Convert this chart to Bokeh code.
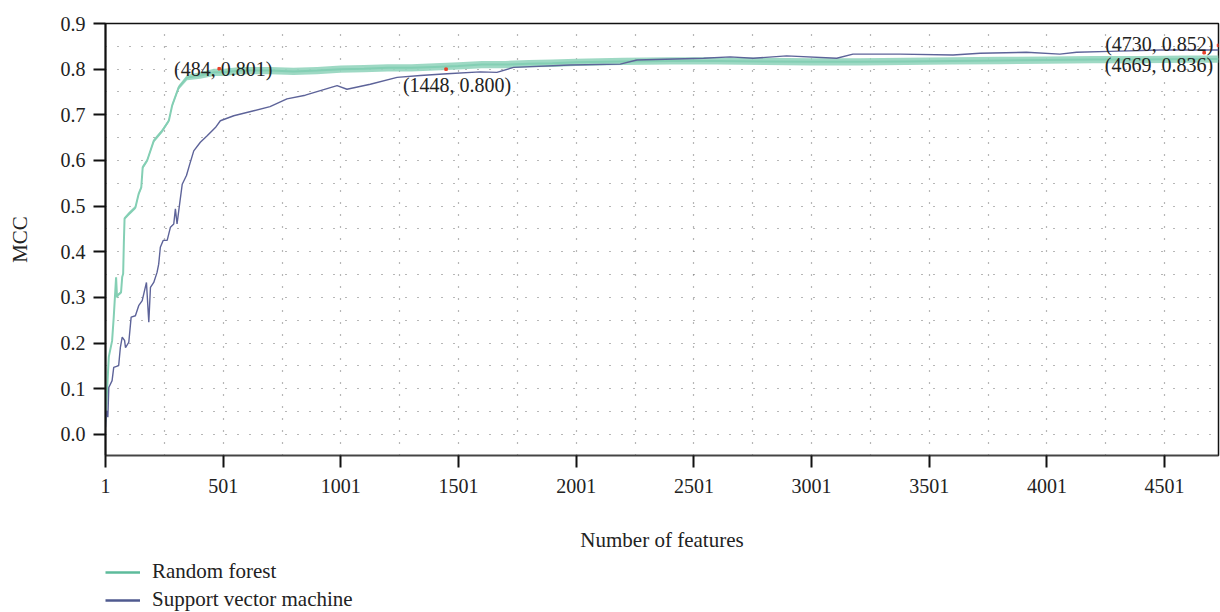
from bokeh.plotting import figure
from bokeh.layouts import column
from bokeh.models import (Range1d, FixedTicker, PrintfTickFormatter, Legend, LegendItem,
                          ColumnDataSource)
from bokeh.core.properties import value
from bokeh.embed import file_html
from bokeh.resources import INLINE

# ---------------- data ----------------
rf_x = [1, 8, 15, 29, 36, 46, 50, 53, 67, 72,
        76, 79, 82, 100, 128, 142, 153, 159, 178, 206,
        242, 270, 284, 312, 348, 404, 461, 503, 574, 700,
        800, 900, 1000, 1100, 1200, 1300, 1400, 1500, 1600, 1700,
        1800, 1900, 2000, 2200, 2400, 2600, 2800, 3000, 3200, 3400,
        3600, 3800, 4000, 4200, 4400, 4600, 4730]
rf_mcc = [0.027, 0.100, 0.170, 0.205, 0.257, 0.344, 0.300, 0.305, 0.311, 0.345,
          0.352, 0.420, 0.473, 0.483, 0.497, 0.527, 0.541, 0.585, 0.600, 0.643,
          0.665, 0.687, 0.720, 0.760, 0.782, 0.786, 0.793, 0.793, 0.797, 0.797,
          0.795, 0.797, 0.800, 0.801, 0.803, 0.803, 0.805, 0.807, 0.810, 0.810,
          0.812, 0.813, 0.815, 0.817, 0.818, 0.818, 0.817, 0.816, 0.816, 0.817,
          0.818, 0.819, 0.820, 0.821, 0.821, 0.822, 0.822]
# half-width of the noisy random-forest band
rf_spread = [0.003, 0.003, 0.003, 0.003, 0.003, 0.003, 0.003, 0.003, 0.003, 0.003,
             0.003, 0.003, 0.003, 0.004, 0.004, 0.004, 0.004, 0.004, 0.004, 0.004,
             0.004, 0.004, 0.004, 0.005, 0.006, 0.007, 0.008, 0.008, 0.008, 0.008,
             0.008, 0.008, 0.008, 0.008, 0.008, 0.008, 0.008, 0.008, 0.008, 0.008,
             0.008, 0.008, 0.008, 0.008, 0.008, 0.008, 0.008, 0.008, 0.008, 0.008,
             0.008, 0.008, 0.008, 0.008, 0.008, 0.008, 0.008]

svm_x = [1, 5, 11, 15, 29, 36, 57, 64, 72, 82,
         86, 100, 110, 128, 142, 157, 175, 185, 192, 206,
         220, 227, 234, 246, 263, 277, 291, 298, 305, 316,
         327, 345, 359, 376, 404, 433, 468, 489, 546, 631,
         700, 772, 850, 914, 985, 1027, 1126, 1240, 1339, 1452, 1593, 1664,
         1735, 1975, 2188, 2259, 2542, 2655, 2753, 2895, 3108, 3177,
         3377, 3602, 3717, 3914, 4056, 4127, 4268, 4481, 4730]
svm_mcc = [0.016, 0.052, 0.038, 0.103, 0.118, 0.147, 0.151, 0.190, 0.213, 0.206,
           0.190, 0.202, 0.257, 0.260, 0.282, 0.293, 0.333, 0.246, 0.322, 0.333,
           0.355, 0.373, 0.410, 0.425, 0.425, 0.454, 0.461, 0.494, 0.461, 0.505,
           0.548, 0.567, 0.592, 0.621, 0.640, 0.654, 0.672, 0.687, 0.698, 0.709,
           0.718, 0.735, 0.743, 0.753, 0.764, 0.756, 0.767, 0.782, 0.786, 0.790, 0.794, 0.793,
           0.804, 0.809, 0.811, 0.820, 0.824, 0.827, 0.824, 0.829, 0.824, 0.833,
           0.833, 0.831, 0.835, 0.837, 0.833, 0.837, 0.839, 0.842, 0.842]

ann_x = [484, 1448, 4730, 4669]
ann_y = [0.801, 0.800, 0.852, 0.836]
ann_text = ["(484, 0.801)", "(1448, 0.800)", "(4730, 0.852)", "(4669, 0.836)"]

series_names = ["Random forest", "Support vector machine"]
x_ticks = [1, 501, 1001, 1501, 2001, 2501, 3001, 3501, 4001, 4501]
x_grid = [251, 501, 751, 1001, 1251, 1501, 1751, 2001, 2251, 2501, 2751, 3001,
          3251, 3501, 3751, 4001, 4251, 4501]
y_ticks = [0.0, 0.1, 0.2, 0.3, 0.4, 0.5, 0.6, 0.7, 0.8, 0.9]
y_grid = [0.0, 0.05, 0.1, 0.15, 0.2, 0.25, 0.3, 0.35, 0.4, 0.45, 0.5, 0.55,
          0.6, 0.65, 0.7, 0.75, 0.8, 0.85]

# ---------------- styling ----------------
FONT = "Liberation Serif"
RF_COLOR = "#5dbb9b"
RF_BAND = "#93d5be"
RF_MID = "#84cfb4"
SVM_COLOR = "#5d6399"
SVM_LEG = "#4f5a8f"

rf_src = ColumnDataSource(dict(
    x=rf_x, y=rf_mcc,
    lo=[m - s for m, s in zip(rf_mcc, rf_spread)],
    hi=[m + s for m, s in zip(rf_mcc, rf_spread)],
))
svm_src = ColumnDataSource(dict(x=svm_x, y=svm_mcc))

p = figure(width=1220, height=558,
           x_range=Range1d(1, 4730), y_range=Range1d(-0.046, 0.9),
           output_backend="svg", toolbar_location=None,
           min_border_left=105, min_border_right=2, min_border_top=23,
           min_border_bottom=103,
           background_fill_color="white", border_fill_color="white")

p.outline_line_color = "#111111"
p.outline_line_width = 1.5

# grids
p.xgrid.ticker = FixedTicker(ticks=x_grid)
p.ygrid.ticker = FixedTicker(ticks=y_grid)
for g in (p.xgrid, p.ygrid):
    g.grid_line_color = "#6f6f6f"
    g.grid_line_dash = "1 11"
    g.grid_line_width = 1.2

# axes
p.xaxis.ticker = FixedTicker(ticks=x_ticks, minor_ticks=[])
p.yaxis.ticker = FixedTicker(ticks=y_ticks, minor_ticks=[])
p.yaxis.formatter = PrintfTickFormatter(format="%.1f")
for ax in (p.xaxis, p.yaxis):
    ax.major_tick_out = 12
    ax.major_tick_in = 0
    ax.major_tick_line_width = 2
    ax.major_tick_line_color = "#111111"
    ax.minor_tick_line_color = None
    ax.major_label_text_font = FONT
    ax.major_label_text_font_size = "20px"
    ax.major_label_text_color = "#222222"
    ax.axis_label_text_font = FONT
    ax.axis_label_text_font_size = "21px"
    ax.axis_label_text_font_style = "normal"
    ax.axis_label_text_color = "#222222"
p.xaxis.axis_line_color = "#444444"
p.xaxis.axis_line_width = 1.5
p.yaxis.axis_line_color = "#111111"
p.yaxis.axis_line_width = 2
p.xaxis.major_label_standoff = 11
p.yaxis.major_label_standoff = 8
p.xaxis.axis_label = "Number of features"
p.yaxis.axis_label = "MCC"
p.xaxis.axis_label_standoff = 32
p.yaxis.axis_label_standoff = 26

# series
p.varea(x="x", y1="lo", y2="hi", source=rf_src, fill_color=RF_BAND, fill_alpha=0.9)
p.line(x="x", y="y", source=rf_src, line_color=RF_MID, line_width=2)
p.line(x="x", y="y", source=svm_src, line_color=SVM_COLOR, line_width=1.4)

# annotation markers
p.scatter(ann_x, ann_y, size=2.5, color="#e8402a", marker="square")

tfont = value(FONT)
p.text(x=[ann_x[0]], y=[ann_y[0]], text=[ann_text[0]], text_font=tfont, text_font_size="20px",
       text_color="#222222", text_align="center", text_baseline="alphabetic", x_offset=4, y_offset=0)
p.text(x=[ann_x[1]], y=[ann_y[1]], text=[ann_text[1]], text_font=tfont, text_font_size="20px",
       text_color="#222222", text_align="center", text_baseline="top", x_offset=11, y_offset=5)
p.text(x=[ann_x[2]], y=[ann_y[2]], text=[ann_text[2]], text_font=tfont, text_font_size="20px",
       text_color="#222222", text_align="right", text_baseline="middle", x_offset=-5, y_offset=-1)
p.text(x=[ann_x[3]], y=[ann_y[3]], text=[ann_text[3]], text_font=tfont, text_font_size="20px",
       text_color="#222222", text_align="right", text_baseline="top", x_offset=9, y_offset=1)

# ---------------- legend strip below the chart ----------------
# the strip's ranges keep its copies of the series out of view; only the swatches show
leg = figure(width=1220, height=54, x_range=Range1d(-20000, -10000), y_range=Range1d(0, 1),
             output_backend="svg", toolbar_location=None,
             x_axis_type=None, y_axis_type=None,
             min_border_left=0, min_border_right=0, min_border_top=0, min_border_bottom=0,
             background_fill_color="white", border_fill_color="white")
leg.outline_line_color = None
leg.grid.visible = False
rf_leg = leg.line(x="x", y="y", source=rf_src, line_color=RF_COLOR, line_width=2.5)
svm_leg = leg.line(x="x", y="y", source=svm_src, line_color=SVM_LEG, line_width=2.5)
legend = Legend(items=[LegendItem(label=series_names[0], renderers=[rf_leg]),
                       LegendItem(label=series_names[1], renderers=[svm_leg])],
                location=(0, 0), orientation="vertical",
                label_text_font=FONT, label_text_font_size="21px", label_text_color="#222222",
                glyph_width=35, glyph_height=20, label_height=20, label_standoff=12,
                spacing=3, padding=0, margin=0,
                border_line_color=None, background_fill_alpha=0)
leg.add_layout(legend)

layout = column(p, leg, spacing=0)
open("out.html", "w").write(file_html(layout, INLINE))
